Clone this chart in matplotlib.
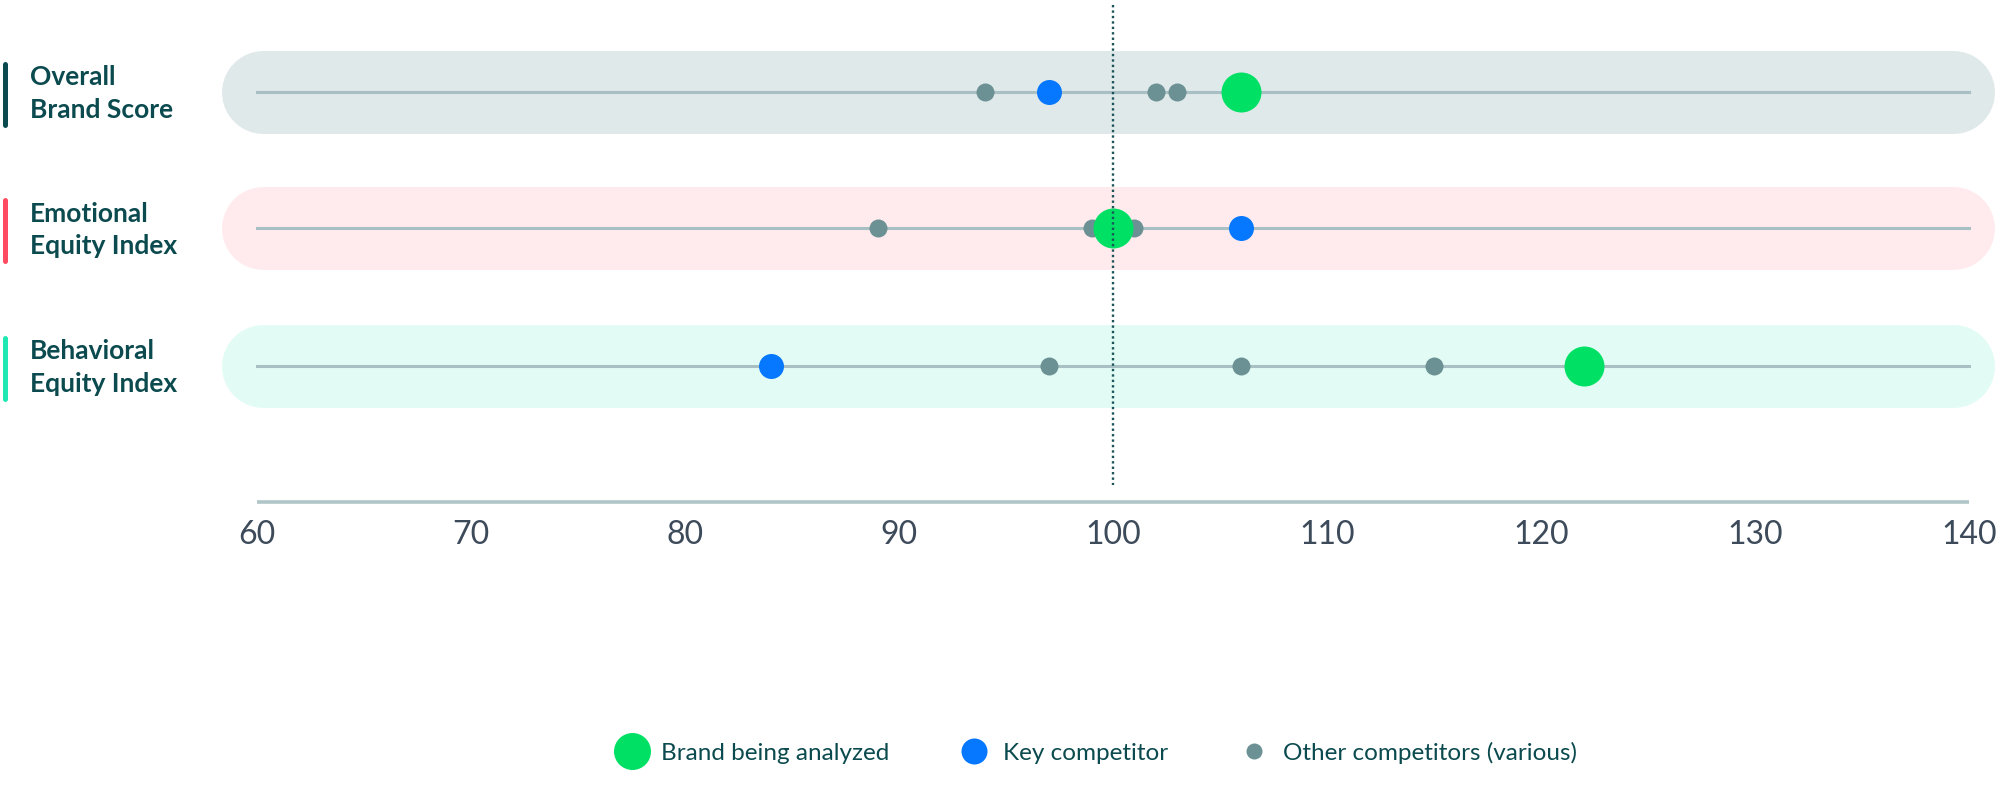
import matplotlib.pyplot as plt
import matplotlib.transforms as mtransforms
from matplotlib.lines import Line2D

plt.rcParams['font.family'] = ['Lato', 'DejaVu Sans']

# data
rows = ['Overall\nBrand Score', 'Emotional\nEquity Index', 'Behavioral\nEquity Index']
brand = [106, 100, 122]
key_comp = [97, 106, 84]
others = [[94, 102, 103], [89, 99, 101], [97, 106, 115]]
ticks = [60, 70, 80, 90, 100, 110, 120, 130, 140]
reference = 100

# style
band_colors = ['#e0e9ea', '#ffebee', '#e2fcf5']
accent_colors = ['#0b4a4e', '#ff4b60', '#20e8b2']
green = '#00e065'
blue = '#0677ff'
grey = '#6b9194'
text_col = '#0b4a4e'

W, H = 2014, 812
fig = plt.figure(figsize=(W / 100, H / 100), dpi=100)
ax = fig.add_axes([0, 0, 1, 1])
ax.axis('off')

# map 60 -> 257px, 140 -> 1969px
ppu = (1969 - 257) / 80
ax.set_xlim(60 - 257 / ppu, 60 + (W - 257) / ppu)
ax.set_ylim(H, 0)  # y in pixels

row_y = [92.5, 229, 367]
band_h = 83
pt = 72 / 100  # px -> pt

for i, name in enumerate(rows):
    y = row_y[i]
    # rounded band as thick line with round caps
    cap = band_h / 2 / ppu
    ax.plot([58.36 + cap, 141.17 - cap], [y, y], color=band_colors[i],
            lw=band_h * pt, solid_capstyle='round', zorder=1)
    ax.plot([60, 140], [y, y], color='#a8c0c3', lw=2.2, zorder=2)
    ax.scatter(others[i], [y] * len(others[i]), s=(18 * pt) ** 2,
               color=grey, zorder=3, linewidths=0)
    ax.scatter([key_comp[i]], [y], s=(25 * pt) ** 2, color=blue, zorder=4, linewidths=0)
    ax.scatter([brand[i]], [y], s=(40 * pt) ** 2, color=green, zorder=5, linewidths=0)

    tr = mtransforms.blended_transform_factory(fig.transFigure, ax.transData)
    ax.plot([5 / W, 5 / W], [y - 28, y + 33], transform=tr, color=accent_colors[i],
            lw=5 * pt, solid_capstyle='round')
    ax.text(30 / W, y + 1, name, transform=tr, ha='left', va='center',
            fontsize=19, fontweight='bold', color=text_col, linespacing=1.45)

# reference line
ax.plot([reference, reference], [6, 486], color='#1c5559', lw=1.7,
        linestyle=(0, (1, 1.3)), zorder=6)

# axis
ax.plot([60, 140], [503, 503], color='#b0c5c7', lw=2.6, solid_capstyle='butt')
for t in ticks:
    ax.text(t, 535, str(t), ha='center', va='center', fontsize=23,
            color='#3c4a5a')

handles = [
    Line2D([], [], marker='o', linestyle='none', color=green, markersize=37 * pt, markeredgewidth=0),
    Line2D([], [], marker='o', linestyle='none', color=blue, markersize=26 * pt, markeredgewidth=0),
    Line2D([], [], marker='o', linestyle='none', color=grey, markersize=16 * pt, markeredgewidth=0),
]
labels = ['Brand being analyzed', 'Key competitor', 'Other competitors (various)']
fig.legend(handles, labels, loc='center', bbox_to_anchor=(1097 / W, 1 - 753 / H),
           ncol=3, frameon=False, fontsize=17.5, handlelength=1.2, handletextpad=0.6,
           columnspacing=2.9, labelcolor=text_col)

fig.savefig('out.png', dpi=100)
